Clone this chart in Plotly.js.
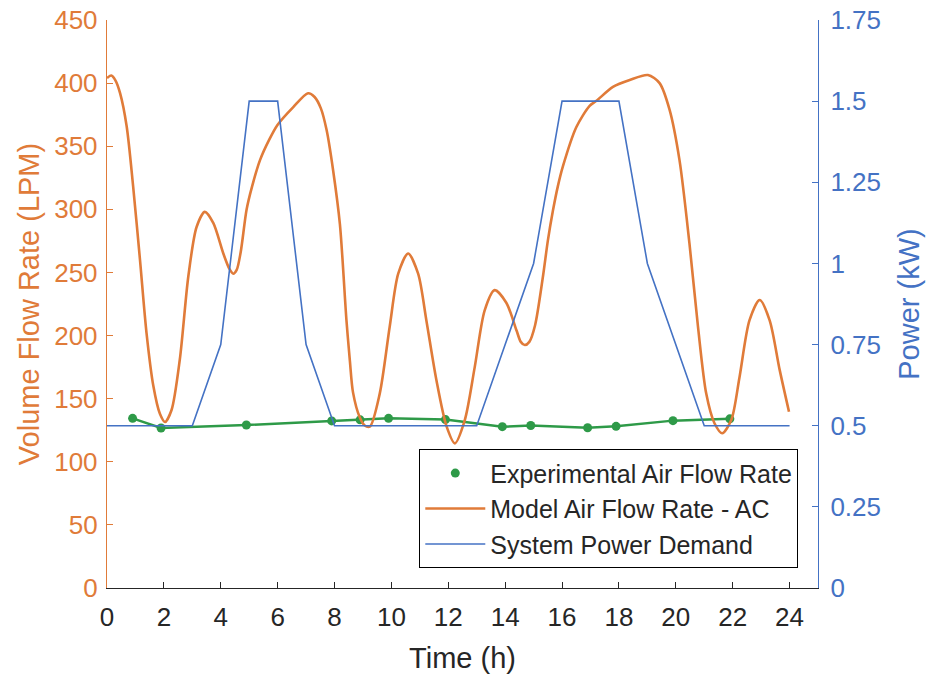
<!DOCTYPE html>
<html>
<head>
<meta charset="utf-8">
<script src="https://cdn.plot.ly/plotly-3.0.1.min.js"></script>
<style>
  html, body { margin: 0; padding: 0; background: #ffffff; }
  #chart { width: 931px; height: 677px; }
</style>
</head>
<body>
<div id="chart"></div>
<script>
// Measured air flow (LPM) at the sampling times (h)
const expTime = [0.9, 1.9, 4.9, 7.9, 8.9, 9.9, 11.9, 13.9, 14.9, 16.9, 17.9, 19.9, 21.9];
const expFlow = [134.4, 126.8, 129.1, 132.4, 133.2, 134.4, 133.4, 127.8, 128.7, 127.0, 128.1, 132.6, 134.0];

// Model air flow rate for the AC case (LPM)
const modelTime = [0.0, 0.15, 0.3, 0.46, 0.69, 0.92, 1.16, 1.39, 1.63, 1.86, 2.04, 2.27, 2.56, 2.86, 3.15, 3.44,
  3.74, 4.09, 4.3, 4.44, 4.56, 4.7, 4.91, 5.1, 5.38, 5.7, 6.0, 6.55, 7.07, 7.3, 7.52, 7.72, 7.95, 8.19, 8.42, 8.54,
  8.65, 8.89, 9.05, 9.24, 9.59, 9.94,
  10.24, 10.59, 10.94, 11.23, 11.58, 11.94, 12.23, 12.58, 12.93, 13.28, 13.63, 14.04, 14.40, 14.55, 14.69, 14.85, 15.05,
  15.33, 15.5, 15.68, 15.85, 16.03, 16.5, 16.97, 17.21, 17.79, 18.38, 19.02, 19.43, 19.78, 20.13, 20.48, 20.78, 21.07,
  21.36, 21.63, 21.95, 22.24, 22.59, 22.95, 23.30, 23.65, 23.98];
const modelFlow = [404, 406, 402, 392, 366, 318, 260, 202, 160, 138, 131.5, 141, 181, 247, 286, 298,
  289, 265, 253, 249, 252, 266, 300, 318, 339, 355, 367, 381, 392, 389, 380, 363, 331, 288, 212, 180,
  155, 135, 129, 127.8, 154, 207,
  249, 265, 249, 212, 165, 128, 114.6, 133, 175, 220, 236, 226, 204, 195, 192.5, 195, 208,
  247, 275, 299, 318, 334, 365, 382, 386, 397, 402.5, 406.4, 400, 379, 339, 273, 207, 154,
  130.5, 122.6, 133, 167, 212, 228.2, 212, 173, 139.7];

// System power demand (kW), hourly
const powerTime = [0, 1, 2, 3, 4, 5, 6, 7, 8, 9, 10, 11, 12, 13, 14, 15, 16, 17, 18, 19, 20, 21, 22, 23, 24];
const powerKW   = [0.5, 0.5, 0.5, 0.5, 0.75, 1.5, 1.5, 0.75, 0.5, 0.5, 0.5, 0.5, 0.5, 0.5, 0.75, 1.0, 1.5, 1.5, 1.5, 1.0, 0.75, 0.5, 0.5, 0.5, 0.5];

const xTicks = [0, 2, 4, 6, 8, 10, 12, 14, 16, 18, 20, 22, 24];
const leftTicks = [0, 50, 100, 150, 200, 250, 300, 350, 400, 450];
const rightTicks = [0, 0.25, 0.5, 0.75, 1, 1.25, 1.5, 1.75];

const ORANGE = '#E07B39';
const BLUE = '#4472C4';
const GREEN = '#2E9A48';
const DARK = '#262626';
const FONT = 'Liberation Sans, Arial, sans-serif';

const traces = [
  {
    x: expTime, y: expFlow, type: 'scatter', mode: 'lines',
    line: {color: GREEN, width: 2.5}, showlegend: false, hoverinfo: 'skip'
  },
  {
    x: expTime, y: expFlow, type: 'scatter', mode: 'markers',
    name: 'Experimental Air Flow Rate',
    marker: {color: GREEN, size: 9}
  },
  {
    x: modelTime, y: modelFlow, type: 'scatter', mode: 'lines',
    name: 'Model Air Flow Rate - AC',
    line: {color: ORANGE, width: 2.6, shape: 'spline', smoothing: 0.8}
  },
  {
    x: powerTime, y: powerKW, type: 'scatter', mode: 'lines', yaxis: 'y2',
    name: 'System Power Demand',
    line: {color: BLUE, width: 1.6}
  }
];

const layout = {
  width: 931, height: 677,
  margin: {l: 107, r: 113, t: 20, b: 89},
  paper_bgcolor: '#ffffff', plot_bgcolor: '#ffffff',
  font: {family: FONT, size: 26, color: DARK},
  showlegend: true,
  legend: {
    x: 0.972, xanchor: 'right', y: 0.035, yanchor: 'bottom',
    bgcolor: '#ffffff', bordercolor: '#000000', borderwidth: 1.2,
    font: {family: FONT, size: 25, color: DARK},
    itemwidth: 60, tracegroupgap: 0
  },
  xaxis: {
    range: [0, 25], tickvals: xTicks, ticktext: xTicks.map(String),
    ticks: 'inside', ticklen: 6, tickcolor: DARK, tickwidth: 1,
    showline: true, linecolor: DARK, linewidth: 1.2,
    showgrid: false, zeroline: false, ticklabelstandoff: 6,
    tickfont: {family: FONT, size: 26, color: DARK},
    title: {text: 'Time (h)', font: {family: FONT, size: 29, color: DARK}, standoff: 16}
  },
  yaxis: {
    range: [0, 450], tickvals: leftTicks, ticktext: leftTicks.map(String),
    ticks: 'inside', ticklen: 6, tickcolor: ORANGE, tickwidth: 1,
    showline: true, linecolor: ORANGE, linewidth: 1.2,
    showgrid: false, zeroline: false, ticklabelstandoff: 3,
    tickfont: {family: FONT, size: 26, color: ORANGE},
    title: {text: 'Volume Flow Rate (LPM)', font: {family: FONT, size: 29, color: ORANGE}, standoff: 6}
  },
  yaxis2: {
    range: [0, 1.75], tickvals: rightTicks, ticktext: rightTicks.map(String),
    overlaying: 'y', side: 'right',
    ticks: 'inside', ticklen: 6, tickcolor: BLUE, tickwidth: 1,
    showline: true, linecolor: BLUE, linewidth: 1.2,
    showgrid: false, zeroline: false, ticklabelstandoff: 6,
    tickfont: {family: FONT, size: 26, color: BLUE},
    title: {text: 'Power (kW)', font: {family: FONT, size: 29, color: BLUE}, standoff: 18}
  }
};

Plotly.newPlot('chart', traces, layout, {displayModeBar: false, staticPlot: true});
</script>
</body>
</html>
